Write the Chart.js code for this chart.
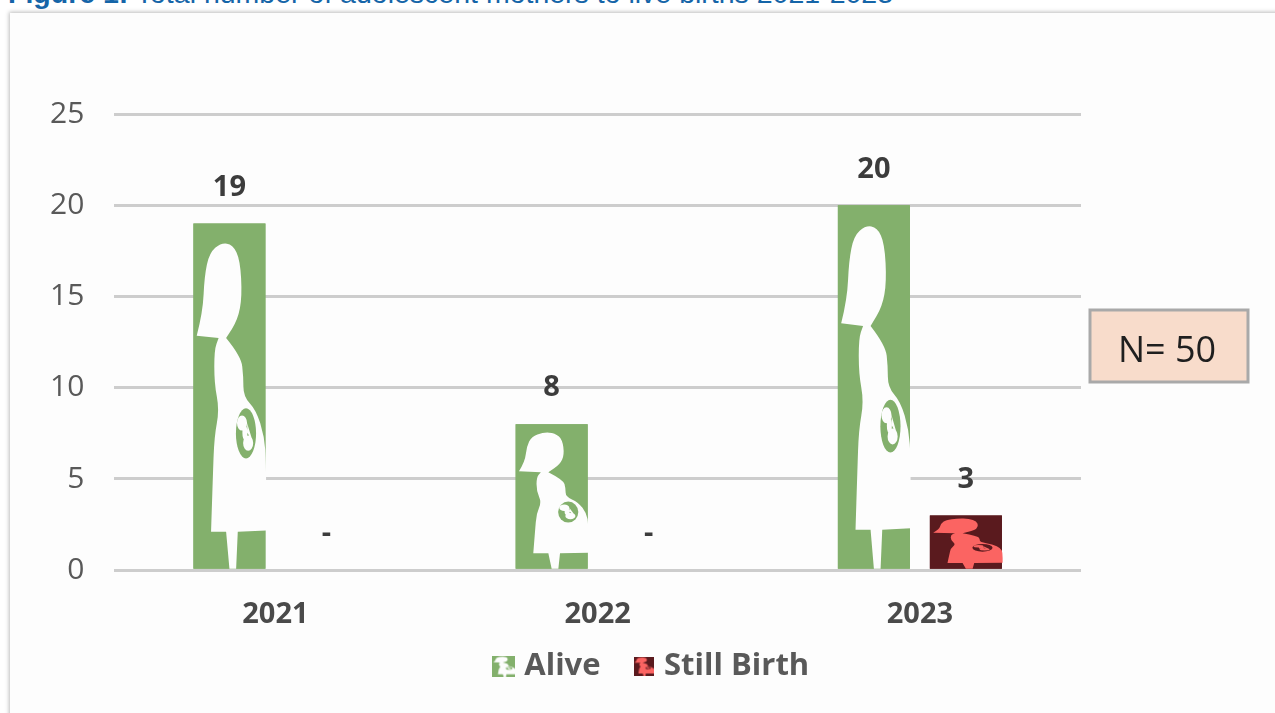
<!DOCTYPE html>
<html>
<head>
<meta charset="utf-8">
<style>
html,body{margin:0;padding:0;background:#fff;width:1275px;height:713px;overflow:hidden}
#caption{position:absolute;left:8px;top:-23px;font:400 28.5px "Liberation Sans",Arial,sans-serif;color:#1565a8;white-space:nowrap}
#frame{position:absolute;left:10px;top:13px;width:1300px;height:760px;background:#fdfdfd;box-shadow:0 0 4px 1px #bdbdbd}
#wrap{position:absolute;left:0;top:0;width:1275px;height:713px}
canvas{filter:blur(.6px)}
</style>
</head>
<body>
<div id="caption"><b>Figure 1:</b> Total number of adolescent mothers to live births 2021-2023</div>
<div id="frame"></div>
<div id="wrap"><canvas id="c" width="1275" height="713"></canvas></div>
<script src="https://cdn.jsdelivr.net/npm/chart.js@4"></script>
<script>
const categories = ['2021', '2022', '2023'];
const seriesNames = ['Alive', 'Still Birth'];
const alive = [19, 8, 20];
const stillBirth = [0, 0, 3];
const yTicks = [0, 5, 10, 15, 20, 25];
const noteText = 'N= 50';

const GREEN = '#83b06c', WHITE = '#fdfdfd', DARK = '#5a1a1e', CORAL = '#fb6462';
const FONT = '"Open Sans", sans-serif';

// Silhouette outline, as fractions of the bar's width and height; a third item marks a sharp corner.
const BODY = [[.384,.056],[.546,.061],[.648,.105],[.676,.211],[.616,.279],[.454,.332,1],[.662,.385],[.694,.443],[.694,.501],[.87,.54],[.986,.618],[1.01,.695],[1.01,.889,1],[.616,.893,1],[.593,1,1],[.5,1,1],[.454,.893,1],[.245,.893,1],[.27,.734],[.29,.618],[.36,.54],[.29,.463],[.29,.366],[.35,.332,1],[.046,.325,1],[.13,.259],[.153,.153],[.222,.085]];

function drawMother(ctx, x, y, w, h, bg, fg) {
  ctx.save();
  ctx.fillStyle = bg;
  ctx.fillRect(x, y, w, h);
  ctx.fillStyle = fg;
  ctx.beginPath();
  const pt = (p) => [x + p[0] * w, y + p[1] * h];
  const n = BODY.length;
  const a0 = pt(BODY[n - 1]), b0 = pt(BODY[0]);
  ctx.moveTo((a0[0] + b0[0]) / 2, (a0[1] + b0[1]) / 2);
  BODY.forEach((p, i) => {
    const a = pt(p), b = pt(BODY[(i + 1) % n]);
    if (p[2]) ctx.lineTo(a[0], a[1]);
    else ctx.quadraticCurveTo(a[0], a[1], (a[0] + b[0]) / 2, (a[1] + b[1]) / 2);
  });
  ctx.closePath();
  ctx.fill();
  ctx.fillStyle = bg;
  ctx.beginPath();
  ctx.ellipse(x + .73 * w, y + .608 * h, .14 * w, .0726 * h, 0, 0, Math.PI * 2);
  ctx.fill();
  ctx.fillStyle = fg;
  ctx.beginPath();
  ctx.ellipse(x + .675 * w, y + .578 * h, .07 * w, .022 * h, 0, 0, Math.PI * 2);
  ctx.ellipse(x + .76 * w, y + .636 * h, .07 * w, .022 * h, 0, 0, Math.PI * 2);
  ctx.ellipse(x + .715 * w, y + .606 * h, .035 * w, .022 * h, 0, 0, Math.PI * 2);
  ctx.fill();
  ctx.restore();
}

function legendIcon(bg, fg, w, h) {
  const k = document.createElement('canvas');
  k.width = w; k.height = h;
  drawMother(k.getContext('2d'), 0, 0, w, h, bg, fg);
  return k;
}
const icons = [legendIcon(GREEN, WHITE, 23, 21), legendIcon(DARK, CORAL, 20, 19)];
const barColors = [[GREEN, WHITE], [DARK, CORAL]];

const marks = {
  id: 'marks',
  afterLayout(chart) {
    const lg = chart.legend;
    lg.left = 0;
    lg.right = 1308;
    lg.top = 652 - lg.height / 2;
    lg.bottom = lg.top + lg.height;
  },
  afterDatasetsDraw(chart) {
    const ctx = chart.ctx;
    const zero = chart.scales.y.getPixelForValue(0);
    chart.data.datasets.forEach((ds, d) => {
      chart.getDatasetMeta(d).data.forEach((bar, i) => {
        const v = ds.data[i];
        if (v > 0) {
          const left = bar.x - bar.width / 2;
          drawMother(ctx, left, bar.y, bar.width, bar.base - bar.y, barColors[d][0], barColors[d][1]);
        }
        ctx.save();
        ctx.font = '700 29px ' + FONT;
        ctx.fillStyle = '#3c3c3c';
        ctx.textAlign = 'center';
        ctx.textBaseline = 'middle';
        ctx.fillText(v > 0 ? String(v) : '-', bar.x + (v > 0 ? 0 : 5), (v > 0 ? bar.y : zero) - 36);
        ctx.restore();
      });
    });
    // N= 50 note
    ctx.save();
    ctx.fillStyle = '#f8dccb';
    ctx.strokeStyle = '#a9a9a9';
    ctx.lineWidth = 3;
    ctx.fillRect(1090, 310, 158, 72);
    ctx.strokeRect(1090, 310, 158, 72);
    ctx.fillStyle = '#1f1f1f';
    ctx.font = '400 36px ' + FONT;
    ctx.textAlign = 'center';
    ctx.textBaseline = 'middle';
    ctx.fillText(noteText, 1167, 352);
    ctx.restore();
  }
};

new Chart(document.getElementById('c'), {
  type: 'bar',
  data: {
    labels: categories,
    datasets: [
      { label: seriesNames[0], data: alive, backgroundColor: GREEN },
      { label: seriesNames[1], data: stillBirth, backgroundColor: DARK }
    ]
  },
  plugins: [marks],
  options: {
    responsive: false,
    animation: false,
    devicePixelRatio: 1,
    categoryPercentage: 0.571,
    barPercentage: 0.783,
    layout: { padding: { top: 114, right: 194, left: 20, bottom: -25 } },
    plugins: {
      title: { display: false },
      tooltip: { enabled: false },
      legend: {
        position: 'bottom',
        labels: {
          usePointStyle: true,
          boxWidth: 10,
          boxHeight: 21,
          padding: 38,
          color: '#595959',
          font: { family: FONT, size: 31, weight: '700' },
          generateLabels: () => seriesNames.map((n, i) => ({
            text: n, pointStyle: icons[i], datasetIndex: i, fontColor: '#595959', lineWidth: 0
          }))
        }
      }
    },
    scales: {
      x: {
        grid: { display: false, drawTicks: false },
        border: { display: false },
        ticks: { color: '#4a4a4a', padding: 27, font: { family: FONT, size: 29, weight: '700' } }
      },
      y: {
        min: 0, max: 25,
        afterBuildTicks: (s) => { s.ticks = yTicks.map(v => ({ value: v })); },
        grid: { color: '#cdcdcd', lineWidth: 3, drawTicks: false },
        border: { display: false },
        ticks: { color: '#595959', padding: 30, font: { family: FONT, size: 30 } }
      }
    }
  }
});
</script>
</body>
</html>
